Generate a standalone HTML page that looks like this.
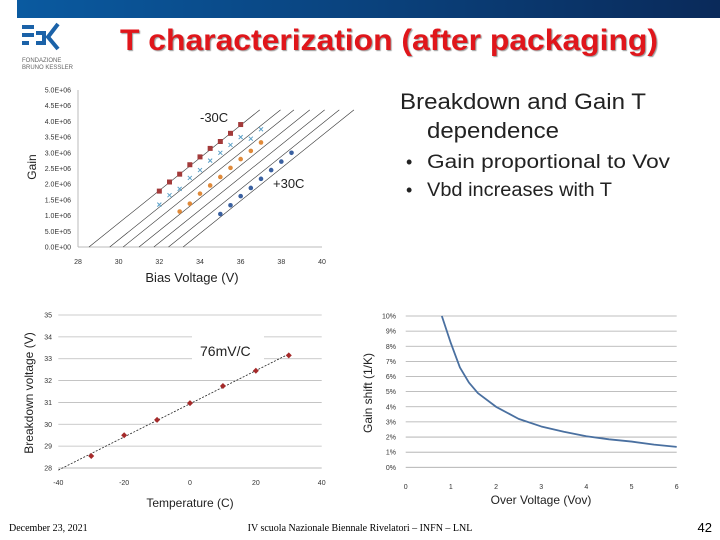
<!DOCTYPE html>
<html><head><meta charset="utf-8"><style>
body{margin:0;background:#fff;}
svg{display:block;font-family:"Liberation Sans",sans-serif;}
</style></head><body>
<svg id="s" width="720" height="540" viewBox="0 0 720 540" xmlns="http://www.w3.org/2000/svg">
<defs><linearGradient id="bg" x1="0" x2="1"><stop offset="0" stop-color="#0a5aa0"/><stop offset="1" stop-color="#0a2a5a"/></linearGradient></defs>
<rect x="17" y="0" width="703" height="18" fill="url(#bg)"/>
<g>
<rect x="22" y="25" width="12" height="4" fill="#1b62a8"/><rect x="22" y="33" width="12" height="4" fill="#1b62a8"/><rect x="22" y="41" width="7" height="4" fill="#1b62a8"/>
<path d="M36 33 h8 v10 h-8" fill="none" stroke="#1b62a8" stroke-width="4"/>
<path d="M58 24 L48 37 L58 49" fill="none" stroke="#1b62a8" stroke-width="4"/>
<text x="22" y="62" font-size="6" fill="#666">FONDAZIONE</text><text x="22" y="69" font-size="6" fill="#666">BRUNO KESSLER</text>
</g>
<text x="120" y="50" textLength="538" lengthAdjust="spacingAndGlyphs" font-size="30" font-weight="bold" fill="#e0161b" style="text-shadow:1px 1px 1px #999">T characterization (after packaging)</text>
<text x="400" y="109" textLength="246" lengthAdjust="spacingAndGlyphs" font-size="22" fill="#222">Breakdown and Gain T</text>
<text x="427" y="138" textLength="132" lengthAdjust="spacingAndGlyphs" font-size="22" fill="#222">dependence</text>
<text x="406" y="168" font-size="18" fill="#222">•</text>
<text x="427" y="168" textLength="243" lengthAdjust="spacingAndGlyphs" font-size="19" fill="#222">Gain proportional to Vov</text>
<text x="406" y="196" font-size="18" fill="#222">•</text>
<text x="427" y="196" textLength="185" lengthAdjust="spacingAndGlyphs" font-size="19" fill="#222">Vbd increases with T</text>
<g id="c1"></g>
<g id="c2"></g>
<g id="c3"></g>
<text x="9" y="531" font-size="10" font-family="Liberation Serif,serif">December 23, 2021</text>
<text x="360" y="531" text-anchor="middle" font-size="10" font-family="Liberation Serif,serif">IV scuola Nazionale Biennale Rivelatori – INFN – LNL</text>
<text x="712" y="532" text-anchor="end" font-size="13">42</text>
</svg>
<script>
const NS="http://www.w3.org/2000/svg";
// chart 1 data
const c1Intercepts=[28.54,29.56,30.22,31.0,31.73,32.45,33.17];
const c1Slope=5.2e5;
const c1XTicks=[28,30,32,34,36,38,40];
const c1YTicks=[0,5e5,1e6,1.5e6,2e6,2.5e6,3e6,3.5e6,4e6,4.5e6,5e6];
const c1YLabels=["0.0E+00","5.0E+05","1.0E+06","1.5E+06","2.0E+06","2.5E+06","3.0E+06","3.5E+06","4.0E+06","4.5E+06","5.0E+06"];
const redV=[32,32.5,33,33.5,34,34.5,35,35.5,36];
const redG=[1.78e6,2.07e6,2.32e6,2.62e6,2.87e6,3.14e6,3.36e6,3.62e6,3.9e6];
const cyanV=[32,32.5,33,33.5,34,34.5,35,35.5,36,36.5,37];
const cyanG=[1.35e6,1.65e6,1.85e6,2.2e6,2.45e6,2.75e6,3.0e6,3.25e6,3.5e6,3.45e6,3.75e6];
const orangeV=[33,33.5,34,34.5,35,35.5,36,36.5,37];
const orangeG=[1.13e6,1.38e6,1.7e6,1.96e6,2.23e6,2.52e6,2.8e6,3.06e6,3.33e6];
const blueV=[35,35.5,36,36.5,37,37.5,38,38.5];
const blueG=[1.05e6,1.33e6,1.62e6,1.88e6,2.17e6,2.45e6,2.72e6,3.0e6];
// chart 2 data
const tempC=[-30,-20,-10,0,10,20,30];
const vbd=[28.55,29.5,30.2,30.97,31.75,32.45,33.15];
const c2XTicks=[-40,-20,0,20,40];
const c2YTicks=[28,29,30,31,32,33,34,35];
// chart 3 data
const ovV=[0.8,1,1.2,1.4,1.6,2,2.5,3,3.5,4,4.5,5,5.5,6];
const gshift=[10,8.2,6.6,5.6,4.9,4.0,3.2,2.7,2.35,2.05,1.85,1.7,1.5,1.35];
const c3XTicks=[0,1,2,3,4,5,6];
const c3YTicks=[0,1,2,3,4,5,6,7,8,9,10];

function el(p,tag,a,txt){const e=document.createElementNS(NS,tag);for(const k in a)e.setAttribute(k,a[k]);if(txt!==undefined)e.textContent=txt;p.appendChild(e);return e;}
const lbl={"font-size":"7","fill":"#333"};

// chart 1
const g1=document.getElementById('c1');
const x1=v=>78+(v-28)*(322-78)/12, y1=v=>247-v/5e6*157;
el(g1,'line',{x1:x1(28),y1:y1(0),x2:x1(28),y2:y1(5e6),stroke:'#bbb'});
el(g1,'line',{x1:x1(28),y1:y1(0),x2:x1(40),y2:y1(0),stroke:'#bbb'});
c1YTicks.forEach((t,i)=>{const e=el(g1,'text',Object.assign({x:71,y:y1(t)+2.5,"text-anchor":"end"},lbl),c1YLabels[i]);

});
c1XTicks.forEach(t=>{const e=el(g1,'text',Object.assign({x:x1(t),y:264,"text-anchor":"middle"},lbl),String(t));

});
c1Intercepts.forEach(v0=>{const v1=v0+8.4;const e=el(g1,'line',{x1:x1(v0),y1:y1(0),x2:x1(v1),y2:y1(c1Slope*(v1-v0)),stroke:'#333','stroke-width':0.6});

});
function marks(V,G,col,shape,name){V.forEach((v,i)=>{const cx=x1(v),cy=y1(G[i]);let e;
if(shape==='sq')e=el(g1,'rect',{x:cx-2.5,y:cy-2.5,width:5,height:5,fill:col});
else if(shape==='x')e=el(g1,'path',{d:`M${cx-2} ${cy-2}L${cx+2} ${cy+2}M${cx-2} ${cy+2}L${cx+2} ${cy-2}`,stroke:col,'stroke-width':1});
else e=el(g1,'circle',{cx:cx,cy:cy,r:2.3,fill:col});

});}
marks(redV,redG,'#a33a3a','sq','marker-minus30c');
marks(cyanV,cyanG,'#5aa0c8','x','marker-minus20c');
marks(orangeV,orangeG,'#e08a3a','c','marker-0c');
marks(blueV,blueG,'#3a60a0','c','marker-plus30c');
el(g1,'text',{x:200,y:122,"font-size":"13",fill:'#222'},'-30C');
el(g1,'text',{x:273,y:188,"font-size":"13",fill:'#222'},'+30C');
el(g1,'text',{x:36,y:167,"font-size":"12",fill:'#222',transform:'rotate(-90 36 167)',"text-anchor":"middle"},'Gain');
el(g1,'text',{x:192,y:282,"font-size":"13",fill:'#222',"text-anchor":"middle"},'Bias Voltage (V)');

// chart 2
const g2=document.getElementById('c2');
const x2=t=>58.3+(t+40)*(321.7-58.3)/80, y2=v=>468-(v-28)*(468-315)/7;
c2YTicks.forEach(t=>{if(t>28){const e=el(g2,'line',{x1:x2(-40),y1:y2(t),x2:x2(40),y2:y2(t),stroke:'#bbb','stroke-width':0.8});

}
const l=el(g2,'text',Object.assign({x:52,y:y2(t)+2.5,"text-anchor":"end"},lbl),String(t));

});
el(g2,'line',{x1:x2(-40),y1:y2(28),x2:x2(40),y2:y2(28),stroke:'#bbb'});
c2XTicks.forEach(t=>{const e=el(g2,'text',Object.assign({x:x2(t),y:485,"text-anchor":"middle"},lbl),String(t));

});
el(g2,'rect',{x:192,y:335,width:72,height:30,fill:'#fff'});
{const n=tempC.length;let mx=0,my=0;tempC.forEach((t,i)=>{mx+=t;my+=vbd[i];});mx/=n;my/=n;let sxy=0,sxx=0;tempC.forEach((t,i)=>{sxy+=(t-mx)*(vbd[i]-my);sxx+=(t-mx)**2;});const k=sxy/sxx;
const e=el(g2,'line',{x1:x2(-40),y1:y2(my+k*(-40-mx)),x2:x2(30),y2:y2(my+k*(30-mx)),stroke:'#222','stroke-dasharray':'2,1.5','stroke-width':0.8});

}
tempC.forEach((t,i)=>{const cx=x2(t),cy=y2(vbd[i]);const e=el(g2,'path',{d:`M${cx} ${cy-3}L${cx+3} ${cy}L${cx} ${cy+3}L${cx-3} ${cy}Z`,fill:'#a52a2a'});

});
el(g2,'text',{x:200,y:356,"font-size":"14",fill:'#222'},'76mV/C');
el(g2,'text',{x:33,y:393,"font-size":"12",fill:'#222',transform:'rotate(-90 33 393)',"text-anchor":"middle"},'Breakdown voltage (V)');
el(g2,'text',{x:190,y:507,"font-size":"12",fill:'#222',"text-anchor":"middle"},'Temperature (C)');

// chart 3
const g3=document.getElementById('c3');
const x3=v=>405.7+v*(676.7-405.7)/6, y3=p=>467.3-p*(467.3-316)/10;
c3YTicks.forEach(t=>{const e=el(g3,'line',{x1:x3(0),y1:y3(t),x2:x3(6),y2:y3(t),stroke:'#aaa','stroke-width':0.8});


const l=el(g3,'text',Object.assign({x:396,y:y3(t)+2.5,"text-anchor":"end"},lbl),t+'%');

});
c3XTicks.forEach(t=>{const e=el(g3,'text',Object.assign({x:x3(t),y:489,"text-anchor":"middle"},lbl),String(t));

});
{const e=el(g3,'polyline',{points:ovV.map((v,i)=>x3(v)+','+y3(gshift[i])).join(' '),fill:'none',stroke:'#4a70a0','stroke-width':1.8,'stroke-linejoin':'round'});

}
el(g3,'text',{x:372,y:393,"font-size":"12",fill:'#222',transform:'rotate(-90 372 393)',"text-anchor":"middle"},'Gain shift (1/K)');
el(g3,'text',{x:541,y:504,"font-size":"12",fill:'#222',"text-anchor":"middle"},'Over Voltage (Vov)');
</script>
</body></html>
